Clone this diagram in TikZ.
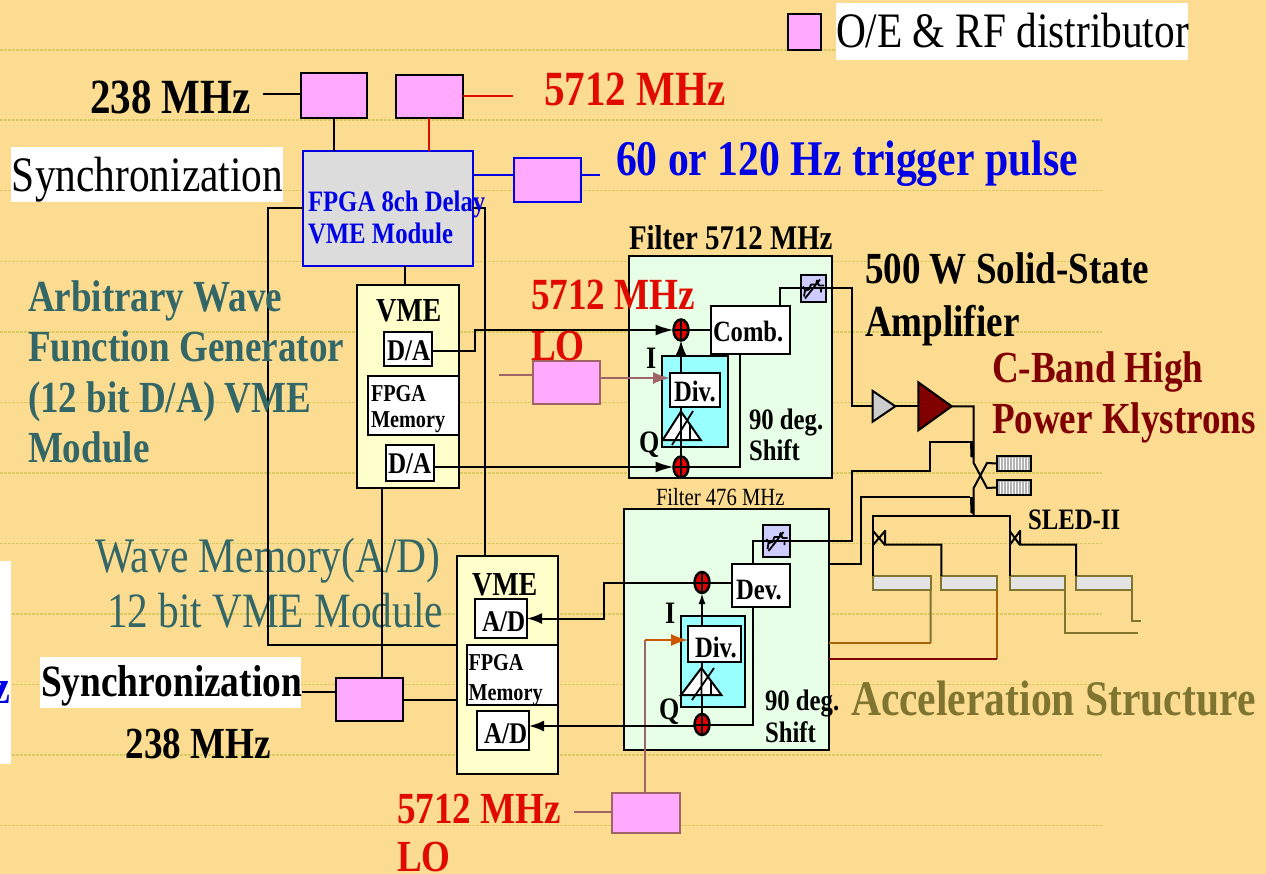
\documentclass[tikz,border=0pt]{standalone}
\usepackage{fontspec}
\setmainfont[FakeStretch=0.835]{Liberation Serif}
\usetikzlibrary{arrows.meta,shapes.geometric,calc}
\definecolor{bgc}{HTML}{FBDC90}
\definecolor{dashc}{HTML}{D8CB62}
\definecolor{pinkc}{HTML}{FFAAFF}
\definecolor{greyc}{HTML}{DCDCDC}
\definecolor{yelc}{HTML}{FFFFCC}
\definecolor{mintc}{HTML}{E6FFE6}
\definecolor{cyanc}{HTML}{99FFFF}
\definecolor{purpc}{HTML}{CCCCFF}
\definecolor{bluec}{HTML}{0000E6}
\definecolor{redc}{HTML}{E00A00}
\definecolor{tealc}{HTML}{336666}
\definecolor{maroonc}{HTML}{800000}
\definecolor{olivec}{HTML}{807530}
\definecolor{mauvec}{HTML}{A06468}
\definecolor{orangec}{HTML}{CC5500}
\definecolor{brownc}{HTML}{A86408}
% sizes are given as the size whose full-width text would fit; the face is condensed
\newcommand{\fz}[1]{\fontsize{\fpeval{#1*1.2}pt}{\fpeval{#1*1.2}pt}\selectfont}
% box by its corners: [style]{name}{x1}{y1}{x2}{y2}
\newcommand{\bx}[6][]{\node[rect,#1,minimum width={(#5-#3)*1pt},minimum height={(#6-#4)*1pt}] (#2) at ({(#3+#5)/2},{(#4+#6)/2}) {};}
% text by left end of baseline: [style]{name}{x}{y}{size}{text}
\newcommand{\lb}[6][]{\node[lbl,font=\fz{#5},#1] (#2) at (#3,#4) {#6};}
\newcommand{\lbb}[6][]{\node[lbl,font=\fz{#5}\bfseries,#1] (#2) at (#3,#4) {#6};}
% attenuator scribble on a node
\newcommand{\scribble}[1]{\draw[line width=1.8pt,line join=round] ($(#1.center)+(-9,8)$) -- ($(#1.center)+(-8,2)$) -- ($(#1.center)+(-4,1)$) -- ($(#1.center)+(-2,-4)$) -- ($(#1.center)+(3,-4)$) -- ($(#1.center)+(4,-8)$) -- ($(#1.center)+(6,-3)$) -- ($(#1.center)+(11,-3)$) ($(#1.center)+(-8,10)$) -- ($(#1.center)+(7,-9)$) ($(#1.center)+(-10,-2)$) -- ($(#1.center)+(-7,3)$) ($(#1.center)+(8,-1)$) -- ($(#1.center)+(8,4)$);}
% mixer
\newcommand{\mixer}[3]{\node[mixr] (#1) at (#2,#3) {}; \draw[line width=2pt] (#1.north)--(#1.south) (#1.west)--(#1.east);}
\tikzset{
 x=1pt,y=-1pt,
 rect/.style={rectangle,draw=black,line width=2pt,inner sep=0pt,outer sep=0pt},
 lbl/.style={anchor=base west,inner sep=0pt,outer sep=0pt,black,yshift=-2pt},
 pinkb/.style={fill=pinkc},
 wire/.style={draw=black,line width=2pt,line join=miter},
 arw/.style={-{Latex[length=18pt,width=11pt]}},
 arws/.style={-{Latex[length=15pt,width=11pt]}},
 arwt/.style={-{Latex[length=11pt,width=7pt]}},
 arwl/.style={-{Latex[length=17pt,width=12pt]}},
 mixr/.style={ellipse,draw=black,fill=red!90!black,line width=2.5pt,minimum width=15pt,minimum height=21pt,inner sep=0pt,outer sep=0pt},
 amp/.style={isosceles triangle,isosceles triangle stretches,shape border rotate=0,draw=black,line width=2pt,inner sep=0pt,outer sep=0pt,anchor=west},
 load/.style={fill=gray!60},
 cav/.style={draw=olivec,fill=greyc!80!white},
 olw/.style={draw=olivec,line width=2pt},
 mauvew/.style={draw=mauvec,line width=2pt},
}
\begin{document}
\begin{tikzpicture}
\useasboundingbox (0,0) rectangle (1266,874);
\fill[bgc] (0,0) rectangle (1266,874);
\foreach \yy in {50,120,190.7,261.3,332,402.5,473,543.5,614,684.5,755,825.5}
  \draw[dashc,line width=1.2pt,dash pattern=on 2.5pt off 1.5pt] (0,\yy) -- (1102,\yy);

% white-backed labels
\fill[white] (836,3) rectangle (1188,60);
\fill[white] (11,147) rectangle (283,202);
\fill[white] (40,657) rectangle (301,708);
\fill[white] (0,561) rectangle (11,764);

% teal label under the wires
\lb[text=tealc]{tw1}{95}{570}{41.4}{Wave Memory(A/D)}
\lb[text=tealc]{tw2}{107}{625}{41.2}{12 bit VME Module}

% pink distributor boxes
\bx[pinkb]{leg}{788}{14}{821}{50}
\bx[pinkb]{pa}{301}{73}{367}{118}
\bx[pinkb]{pb}{396}{75}{463}{118}
\bx[pinkb,draw=bluec]{pc}{514}{158}{581}{202}
\bx[pinkb,draw=mauvec]{pd}{533}{361}{599.5}{404}
\bx[pinkb]{pe}{336}{678}{402.5}{721}
\bx[pinkb,draw=mauvec]{pf}{612}{793}{680}{833}

% delay module
\bx[fill=greyc,draw=bluec]{fpga}{303}{151}{473}{266}

% free ends
\coordinate (e238) at (263,94);
\coordinate (e5712) at (513,96.5);
\coordinate (etrig) at (600,175);
\coordinate (elo1) at (499,375.5);
\coordinate (esync) at (302,692);
\coordinate (elo2) at (574,811.7);

% VME modules
\bx[fill=yelc]{va}{357}{285}{459}{488}
\bx[fill=white]{da1}{384}{332.5}{432}{366}
\bx[fill=white]{ma}{367.5}{376}{459}{435}
\bx[fill=white]{da2}{386}{444.5}{434}{481}
\bx[fill=yelc]{vb}{456.5}{556}{557.5}{774}
\bx[fill=white]{ad1}{474.5}{599}{527}{638}
\bx[fill=white]{mb}{467}{645}{557.5}{705}
\bx[fill=white]{ad2}{477}{711}{529}{750}

% filter boxes
\bx[fill=mintc]{fa}{628.5}{256}{831.5}{477.5}
\bx[fill=mintc]{fb}{624}{509}{829}{750}
\bx[fill=cyanc]{ca}{662}{356.5}{727.5}{447}
\bx[fill=cyanc]{cb}{680.5}{616}{744.5}{707}
\bx[fill=white]{comb}{711}{306}{790}{354}
\bx[fill=white]{dev}{732}{564}{790}{607}
\bx[fill=white]{diva}{670}{373}{720}{406.5}
\bx[fill=white]{divb}{688}{626}{740.5}{662}
\bx[fill=purpc]{ata}{800.5}{275}{825.5}{302}
\bx[fill=purpc]{atb}{763}{525}{790}{557}

% mixers
\mixer{ma1}{681}{330}
\mixer{ma2}{681}{467}
\mixer{mb1}{702}{582.5}
\mixer{mb2}{702}{724.5}

% phase shifters
\draw[line width=2pt,fill=white] (662.7,440) -- (700.7,440) -- (681,411.5) -- cycle;
\draw[line width=1.8pt] (672,445) -- (693,411) (681,411.5) -- (681,440) (690,440) -- (690,425);
\draw[line width=2pt,fill=white] (681,695) -- (721.4,695) -- (701.4,668) -- cycle;
\draw[line width=1.8pt] (692,700) -- (714,668) (701.4,668) -- (701.4,695) (711,695) -- (711,680);

% amplifiers
\node[amp,fill=gray!40,minimum width=30.7pt,minimum height=22.6pt] (g1) at (872.7,406.3) {};
\node[amp,fill=maroonc,minimum width=48pt,minimum height=33.4pt] (g2) at (918.3,406.3) {};

% hybrid loads
\bx[load]{l1}{997}{456}{1030.7}{471}
\bx[load]{l2}{997}{480}{1030.7}{495}
\foreach \xx in {1000,1003,...,1028}
  \draw[white,line width=1pt] (\xx,457.5) -- (\xx,469.5) (\xx,481.5) -- (\xx,493.5);

% cavities
\bx[cav]{c1}{873}{576}{930.7}{590}
\bx[cav]{c2}{941.3}{576}{996.7}{590}
\bx[cav]{c3}{1009.7}{576}{1065.3}{590}
\bx[cav]{c4}{1076}{576}{1131.7}{590}

% connectors, top
\draw[wire] (e238) -- (e238 -| pa.west);
\draw[wire] (334,0 |- pa.south) -- (334,0 |- fpga.north);
\draw[wire,draw=redc] (pb.east |- e5712) -- (e5712);
\draw[wire,draw=redc] (429,0 |- pb.south) -- (429,0 |- fpga.north);
\draw[wire,draw=bluec] (fpga.east |- etrig) -- (etrig -| pc.west);
\draw[wire,draw=bluec] (pc.east |- etrig) -- (etrig);
\draw[wire] (fpga.west |- 0,208) -| (268,645) -- (vb.west |- 0,645);
\draw[wire] (fpga.east |- 0,208) -| (485,0 |- vb.north);
\draw[wire] (404.5,0 |- fpga.south) -- (404.5,0 |- va.north);
\draw[wire] (382,0 |- va.south) -- (382,0 |- pe.north);
\draw[wire] (esync) -- (esync -| pe.west);
\draw[wire] (pe.east |- 0,699.7) -- (vb.west |- 0,699.7);

% mauve LO
\draw[mauvew] (elo1) -- (elo1 -| pd.west);
\draw[mauvew,arwl] (pd.east |- 0,378) -- (diva.west |- 0,378);
\draw[mauvew] (elo2) -- (elo2 -| pf.west);
\draw[mauvew] (645,0 |- pf.north) -- (645,640);
\draw[draw=orangec,line width=2pt,arwl] (645,640) -- (divb.west |- 0,640);

% connectors, 5712 MHz filter
\draw[wire,arw] (da1.east |- 0,351) -| (475,0 |- ma1.west) -- (ma1.west);
\draw[wire,arw] (da2.east |- ma2.west) -- (ma2.west);
\draw[wire] (comb.west |- ma1.east) -- (ma1.east);
\draw[wire] (740,0 |- comb.south) |- (ma2.east);
\draw[wire,arws] (ma1.south |- diva.north) -- (ma1.south);
\draw[line width=2pt] (681,0 |- diva.south) -- (681,411.5);
\draw[wire] (681,440) -- (ma2.north);
\draw[wire] (779.5,0 |- comb.north) |- (ata.west);
\draw[wire] (ata.east) -| (852,0 |- g1.west) -- (g1.west);
\draw[wire] (g1.east) -- (g2.west);
\draw[wire] (g2.east) -| (973.7,463) -- (987,488) -- (l2.west);
\draw[wire] (973.7,516) -- (973.7,488) -- (987,463) -- (l1.west);

% connectors, 476 MHz filter
\draw[wire,arws] (mb1.west) -- (603.5,0 |- mb1.west) |- (ad1.east |- 0,618.5);
\draw[wire,arws] (mb2.west |- 0,726) -- (ad2.east |- 0,726);
\draw[wire] (dev.west |- mb1.east) -- (mb1.east);
\draw[wire] (753,0 |- dev.south) |- (mb2.east);
\draw[wire,arwt] (702,0 |- divb.north) -- (mb1.south);
\draw[line width=2pt] (702,0 |- divb.south) -- (702,668);
\draw[wire] (702,695) -- (mb2.north);
\draw[wire] (753,0 |- dev.north) |- (atb.west);
\draw[wire] (atb.east) -| (852,471) -| (930,442) -- (970,442);
\draw[wire] (fb.east |- 0,564) -| (860.7,497) -- (970,497);
\fill (970,441) -- (974,441) -- (974,458) -- (970.5,457) -- cycle;
\fill (970,497) -- (974,497) -- (974,514) -- (970.5,513) -- cycle;

% SLED-II
\draw[wire] (c1.north west) -- (873,516) -- (1009.7,516) -- (c3.north west);
\draw[wire] (873,531) -- (885,545) (873,545) -- (885,531) (885,530) -- (885,544.5) -| (c2.north west);
\draw[wire] (1009.7,531) -- (1020,545) (1009.7,545) -- (1020,531) (1020,530) -- (1020,544.5) -| (c4.north west);
\draw[olw] (c1.south east) -- (930.7,642.7);
\draw[draw=brownc,line width=2pt] (930.7,642.7) -- (fb.east |- 0,642.7);
\draw[draw=brownc,line width=2pt] (c2.south east) -- (996.7,659);
\draw[draw=maroonc,line width=2pt] (996.7,659) -- (fb.east |- 0,659);
\coordinate (e3) at (1138,632.7);
\coordinate (e4) at (1140.7,621);
\draw[olw] (c3.south east) |- (e3);
\draw[olw] (c4.south east) |- (e4);

\draw[wire] (ata.west) -- (ata.east);
\draw[wire] (atb.west) -- (atb.east);
\scribble{ata}
\scribble{atb}

% labels
\lb{tleg}{836}{46}{41.3}{O/E \& RF distributor}
\lbb{t238}{90}{112}{41}{238 MHz}
\lbb[text=redc]{t5712}{544}{104}{41}{5712 MHz}
\lb{tsync}{12}{190}{41.3}{Synchronization}
\lbb[text=bluec]{ttrig}{616}{174}{41.6}{60 or 120 Hz trigger pulse}
\lbb[text=bluec]{tf1}{308}{210}{24.7}{FPGA 8ch Delay}
\lbb[text=bluec]{tf2}{308}{242}{24.7}{VME Module}
\lbb[text=tealc]{ta1}{28}{310}{37}{Arbitrary Wave}
\lbb[text=tealc]{ta2}{28}{360}{37}{Function Generator}
\lbb[text=tealc]{ta3}{28}{410}{37}{(12 bit D/A) VME}
\lbb[text=tealc]{ta4}{28}{460}{37}{Module}
\lbb{tv1}{376}{320}{28}{VME}
\lbb{td1}{387}{358}{25}{D/A}
\lbb{tm1}{371}{399}{20.2}{FPGA}
\lbb{tm2}{371}{425}{20.2}{Memory}
\lbb{td2}{388}{471}{25}{D/A}
\lbb[text=redc]{tlo1}{531}{308}{37.1}{5712 MHz}
\lbb[text=redc]{tlo2}{531}{358}{37.1}{LO}
\lbb{tfa}{629}{248}{28.8}{Filter 5712 MHz}
\lbb{tcomb}{713}{340}{24.5}{Comb.}
\lbb{tdiva}{674}{399}{24.6}{Div.}
\lbb{tia}{646}{367}{26}{I}
\lbb{tqa}{639}{450}{26}{Q}
\lbb{t90a}{749}{427}{24.7}{90 deg.}
\lbb{tsa}{749}{458}{24.7}{Shift}
\lbb{t500}{865}{282}{37}{500 W Solid-State}
\lbb{tamp}{865}{335}{37}{Amplifier}
\lbb[text=maroonc]{tcb}{992}{381}{37}{C-Band High}
\lbb[text=maroonc]{tpk}{992}{431}{37}{Power Klystrons}
\lb{tfb}{656}{503}{20.6}{Filter 476 MHz}
\lbb{tsled}{1028}{527}{24.7}{SLED-II}
\lbb{tdev}{736}{597}{24.6}{Dev.}
\lbb{tdivb}{695}{655}{24.6}{Div.}
\lbb{tib}{665}{621}{26}{I}
\lbb{tqb}{659}{717}{26}{Q}
\lbb{t90b}{765}{708}{24.7}{90 deg.}
\lbb{tsb}{765}{740}{24.7}{Shift}
\lbb[text=olivec]{tacc}{851}{713}{41.5}{Acceleration Structure}
\lbb{tvb}{472}{593}{28}{VME}
\lbb{tab1}{482}{629}{25}{A/D}
\lbb{tmb1}{468.5}{668}{20.2}{FPGA}
\lbb{tmb2}{468.5}{698}{20.2}{Memory}
\lbb{tab2}{484}{741}{25}{A/D}
\lbb{tsy2}{41}{694}{37.3}{Synchronization}
\lbb{t2382}{125.5}{756}{37}{238 MHz}
\lbb[text=redc]{tlo3}{397}{821.5}{37}{5712 MHz}
\lbb[text=redc]{tlo4}{397}{869.5}{37}{LO}
\node[lbl,anchor=base east,font=\fz{40}\bfseries,text=bluec] (tz) at (10,701) {z};
\end{tikzpicture}
\end{document}
